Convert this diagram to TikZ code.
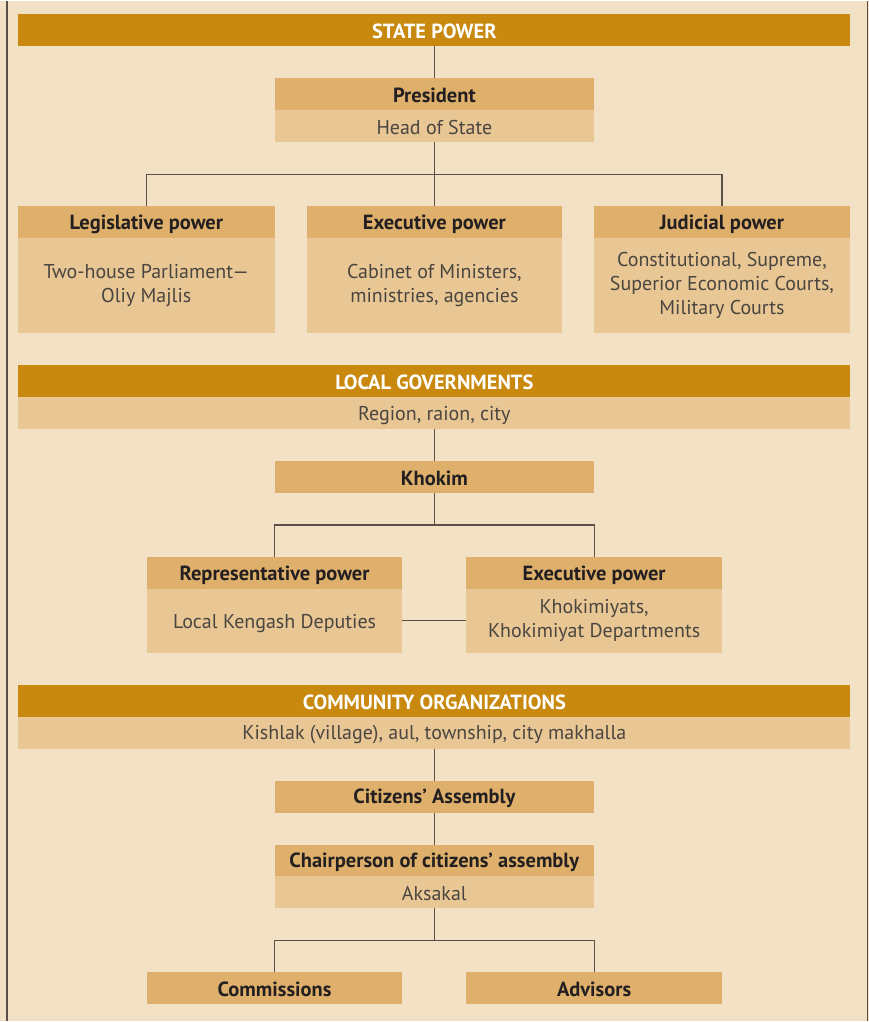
\documentclass[tikz,border=0pt]{standalone}
\usepackage{fontspec}
\setmainfont{PT Sans}
\usepackage{xcolor}
\definecolor{bgcol}{HTML}{F2E1C5}
\definecolor{barcol}{HTML}{C8890E}
\definecolor{headcol}{HTML}{DEB06C}
\definecolor{bodycol}{HTML}{E8C794}
\definecolor{linecol}{HTML}{5A5048}
\definecolor{darktext}{HTML}{231F20}
\definecolor{greytext}{HTML}{4A4540}

\begin{document}
\begin{tikzpicture}[x=1pt, y=-1pt,
  box/.style={inner sep=0pt, outer sep=0pt, align=center, font=\fontsize{20}{24}\selectfont,
    execute at begin node={\rule[-2pt]{0pt}{21pt}}},
  bar/.style={box, fill=barcol, text=white, font=\fontsize{20.5}{24}\selectfont\bfseries, minimum width=833pt, minimum height=32pt},
  head/.style={box, fill=headcol, text=darktext, font=\fontsize{20.5}{24}\selectfont\bfseries, minimum height=32pt},
  body/.style={box, fill=bodycol, text=greytext},
  link/.style={draw=linecol, line width=1.2pt}]
  \fill[bgcol] (0,0) rectangle (870,1022);
  \draw[linecol, line width=1.5pt] (7,0) -- (7,1022);
  \draw[linecol, line width=1.5pt] (869,0) -- (869,1022);

  \node[bar] (state) at (435,29) {STATE POWER};
  \node[head, minimum width=320pt] (pres) at (435,93) {President};
  \node[body, minimum width=320pt, minimum height=32pt] (presb) at (435,125) {Head of State};
  \node[head, minimum width=257pt] (leg) at (146.5,222) {Legislative power};
  \node[body, minimum width=257pt, minimum height=95pt] (legb) at (146.5,285.5) {Two-house Parliament—\\Oliy Majlis};
  \node[head, minimum width=256pt] (exe) at (435,222) {Executive power};
  \node[body, minimum width=256pt, minimum height=95pt] (exeb) at (435,285.5) {Cabinet of Ministers,\\ministries, agencies};
  \node[head, minimum width=256pt] (jud) at (723,222) {Judicial power};
  \node[body, minimum width=256pt, minimum height=95pt] (judb) at (723,285.5) {Constitutional, Supreme,\\Superior Economic Courts,\\Military Courts};

  \node[bar] (local) at (435,381) {LOCAL GOVERNMENTS};
  \node[body, minimum width=833pt, minimum height=32pt] (region) at (435,413) {Region, raion, city};
  \node[head, minimum width=320pt] (khokim) at (435,477) {Khokim};
  \node[head, minimum width=256pt] (rep) at (275,573) {Representative power};
  \node[body, minimum width=256pt, minimum height=64pt] (repb) at (275,621) {Local Kengash Deputies};
  \node[head, minimum width=256pt] (lexe) at (595,573) {Executive power};
  \node[body, minimum width=256pt, minimum height=64pt] (lexeb) at (595,621) {Khokimiyats,\\Khokimiyat Departments};

  \node[bar] (comm) at (435,701) {COMMUNITY ORGANIZATIONS};
  \node[body, minimum width=833pt, minimum height=32pt] (kish) at (435,733) {Kishlak (village), aul, township, city makhalla};
  \node[head, minimum width=320pt] (cit) at (435,797) {Citizens’ Assembly};
  \node[head, minimum width=320pt] (chair) at (435,861) {Chairperson of citizens’ assembly};
  \node[body, minimum width=320pt, minimum height=32pt] (aks) at (435,893) {Aksakal};
  \node[head, minimum width=256pt] (coms) at (275,989) {Commissions};
  \node[head, minimum width=256pt] (adv) at (595,989) {Advisors};

  \draw[link] (state) -- (pres);
  \draw[link] (presb.south) -- ++(0,33) coordinate (split1);
  \draw[link] (split1) -| (leg.north);
  \draw[link] (split1) -- (exe.north);
  \draw[link] (split1) -| (jud.north);
  \draw[link] (region) -- (khokim);
  \draw[link] (khokim.south) -- ++(0,32) coordinate (split2);
  \draw[link] (split2) -| (rep.north);
  \draw[link] (split2) -| (lexe.north);
  \draw[link] (repb) -- (lexeb);
  \draw[link] (kish) -- (cit);
  \draw[link] (cit) -- (chair);
  \draw[link] (aks.south) -- ++(0,32) coordinate (split3);
  \draw[link] (split3) -| (coms.north);
  \draw[link] (split3) -| (adv.north);
\end{tikzpicture}
\end{document}
